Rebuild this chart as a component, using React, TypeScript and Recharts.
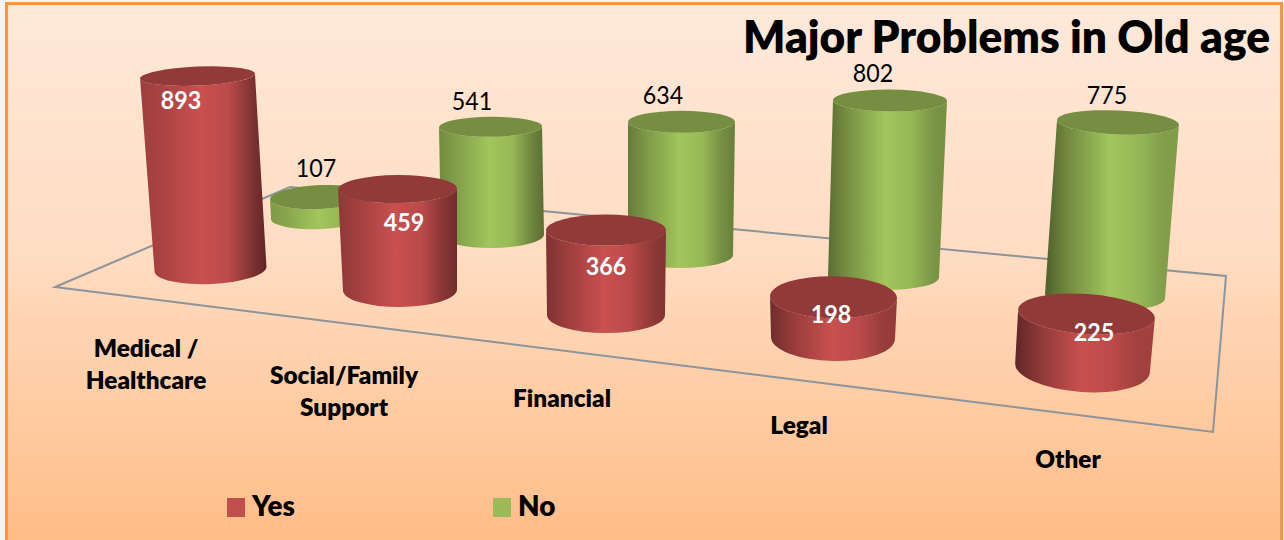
import React from "react";
import { BarChart, Bar, XAxis, YAxis, Legend, LabelList, Customized } from "recharts";

const categories = ["Medical / Healthcare", "Social/Family Support", "Financial", "Legal", "Other"];
const yesValues = [893, 459, 366, 198, 225];
const noValues = [107, 541, 634, 802, 775];
const chartTitle = "Major Problems in Old age";

const rows = categories.map((name, i) => ({ name, Yes: yesValues[i], No: noValues[i] }));

// Perspective camera: each mark is moved off the flat Recharts bar to its place on the tilted floor.
type Cam = { dx: number; dy: number; k: number; lean: number; rxT: number; ryT: number; rxB: number; ryB: number; rot: number; lx: number; ly: number };
const yesCamera: Cam[] = [
  { dx: -17.5, dy: -131, k: 1.08, lean: -13, rxT: 0.575, ryT: 0.095, rxB: 0.56, ryB: 0.15, rot: -2.5, lx: -47, ly: -121.4 },
  { dx: -64, dy: -110, k: 1.1, lean: -2.5, rxT: 0.595, ryT: 0.14, rxB: 0.57, ryB: 0.17, rot: -0.5, lx: -60, ly: -86.2 },
  { dx: -94, dy: -85, k: 1.16, lean: 0, rxT: 0.6, ryT: 0.155, rxB: 0.59, ryB: 0.18, rot: 0, lx: -94, ly: -60.8 },
  { dx: -103, dy: -62, k: 1.03, lean: 0.5, rxT: 0.635, ryT: 0.21, rxB: 0.62, ryB: 0.23, rot: 1, lx: -105, ly: -46.4 },
  { dx: -89.5, dy: -32, k: 1.2, lean: 4, rxT: 0.685, ryT: 0.2, rxB: 0.675, ryB: 0.24, rot: 4, lx: -78, ly: -23 },
];
const noCamera: Cam[] = [
  { dx: 193, dy: -183, k: 0.93, lean: -1, rxT: 0.5, ryT: 0.12, rxB: 0.5, ryB: 0.12, rot: -2.5, lx: 188, ly: -210.6 },
  { dx: 128.5, dy: -165, k: 1.0, lean: -2, rxT: 0.515, ryT: 0.1, rxB: 0.515, ryB: 0.13, rot: -0.5, lx: 108, ly: -190.8 },
  { dx: 80.5, dy: -145, k: 1.05, lean: 1, rxT: 0.535, ryT: 0.11, rxB: 0.525, ryB: 0.13, rot: 0, lx: 63, ly: -178.2 },
  { dx: 47.5, dy: -123, k: 1.1, lean: 6.5, rxT: 0.57, ryT: 0.11, rxB: 0.555, ryB: 0.13, rot: 0.5, lx: 37, ly: -166.6 },
  { dx: 33, dy: -104, k: 1.12, lean: 13, rxT: 0.61, ryT: 0.12, rxB: 0.6, ryB: 0.14, rot: 2.4, lx: 35, ly: -150 },
];
const tickOffsets = [
  { dx: -32, y: 357 },
  { dx: -70, y: 383.5 },
  { dx: -88, y: 407 },
  { dx: -87, y: 434 },
  { dx: -54, y: 468 },
];

const FONT = "Lato, 'Open Sans', sans-serif";
const RED = [201, 80, 79];
const GREEN = [162, 197, 92];

const shade = (c: number[], f: number) => `rgb(${c.map((v) => Math.round(v * f)).join(",")})`;

function Txt({ x, y, size, weight = 700, anchor = "middle", fill = "#000", sx = 0.95, children }: any) {
  return (
    <text
      transform={`translate(${x},${y}) scale(${sx},1)`}
      textAnchor={anchor}
      fontFamily={FONT}
      fontSize={size}
      fontWeight={weight}
      fill={fill}
    >
      {children}
    </text>
  );
}

function cylinderShape(color: number[], cams: Cam[], prefix: string) {
  return function Cylinder(props: any) {
    const { x, width, height, index } = props;
    const c = cams[index];
    const bx = x + width / 2 + c.dx;
    const by = props.y + height + c.dy;
    const tx = bx + c.lean;
    const ty = by - height * c.k;
    const rad = (c.rot * Math.PI) / 180;
    const rxT = width * c.rxT;
    const ryT = width * c.ryT;
    const rxB = width * c.rxB;
    const ryB = width * c.ryB;
    const cos = Math.cos(rad);
    const sin = Math.sin(rad);
    const d = [
      `M${tx - rxT * cos},${ty - rxT * sin}`,
      `L${bx - rxB * cos},${by - rxB * sin}`,
      `A${rxB},${ryB} ${c.rot} 0 0 ${bx + rxB * cos},${by + rxB * sin}`,
      `L${tx + rxT * cos},${ty + rxT * sin}`,
      `A${rxT},${ryT} ${c.rot} 0 1 ${tx - rxT * cos},${ty - rxT * sin}`,
      "Z",
    ].join(" ");
    const t = index / 4;
    const leftEdge = 0.78 - 0.3 * t;
    const rightEdge = 0.48 + 0.32 * t;
    const id = `${prefix}-grad-${index}`;
    return (
      <g>
        <defs>
          <linearGradient id={id} x1="0" y1="0" x2="1" y2="0">
            <stop offset="0" stopColor={shade(color, leftEdge)} />
            <stop offset="0.16" stopColor={shade(color, 0.5 * leftEdge + 0.45)} />
            <stop offset="0.48" stopColor={shade(color, 1)} />
            <stop offset="0.7" stopColor={shade(color, 0.93)} />
            <stop offset="0.88" stopColor={shade(color, 0.5 * rightEdge + 0.4)} />
            <stop offset="1" stopColor={shade(color, rightEdge)} />
          </linearGradient>
        </defs>
        <path d={d} fill={`url(#${id})`} />
        <ellipse
          cx={tx}
          cy={ty}
          rx={rxT}
          ry={ryT}
          fill={shade(color, 0.72)}
          transform={`rotate(${c.rot} ${tx} ${ty})`}
        />
      </g>
    );
  };
}

function valueLabel(cams: Cam[], fill: string, weight: number) {
  return function ValueLabel(props: any) {
    const { x, y, width, value, index } = props;
    const c = cams[index];
    return (
      <Txt x={x + width / 2 + c.lx} y={y + c.ly + 8.5} size={24.5} weight={weight} fill={fill}>
        {value}
      </Txt>
    );
  };
}

function CategoryTick({ x, payload, index }: any) {
  const o = tickOffsets[index];
  const label: string = payload.value;
  const cut = label.lastIndexOf(" ");
  const lines = cut > 0 ? [label.slice(0, cut), label.slice(cut + 1)] : [label];
  return (
    <g>
      {lines.map((line, i) => (
        <Txt key={line} x={x + o.dx} y={o.y + i * 32} size={25} sx={0.975} weight={800}>
          {line}
        </Txt>
      ))}
    </g>
  );
}

function Floor() {
  return (
    <g>
      <polygon points="55,287 1213,432 1226,276 290,187" fill="none" stroke="#8b949b" strokeWidth={2} />
      <Txt x={1270} y={53} size={46} anchor="end" sx={0.962} weight={800}>
        {chartTitle}
      </Txt>
    </g>
  );
}

function LegendBox({ payload }: any) {
  const items = [...(payload || [])].reverse();
  return (
    <svg width={400} height={40} style={{ display: "block" }}>
      {items.map((it: any, i: number) => (
        <g key={it.value}>
          <rect x={i * 266} y={11} width={18} height={19} fill={it.color} />
          <Txt x={i * 266 + 25} y={29} size={29} anchor="start" sx={0.96} weight={800}>
            {it.value}
          </Txt>
        </g>
      ))}
    </svg>
  );
}

export default function App() {
  return (
    <div style={{ position: "absolute", left: 0, top: 0, width: 1284, height: 540, overflow: "hidden", background: "#f4f4f2" }}>
      <div
        style={{
          position: "absolute",
          left: 5,
          top: 2,
          width: 1278,
          height: 560,
          boxSizing: "border-box",
          border: "3px solid #f79646",
          background: "linear-gradient(180deg, #ffe9da 0%, #ffdcc2 45%, #ffbb84 100%)",
        }}
      />
      <div style={{ position: "absolute", left: 0, top: 0 }}>
        <BarChart
          width={1284}
          height={540}
          data={rows}
          margin={{ top: 200, right: 44, bottom: 70, left: 60 }}
          barSize={100}
          barGap={0}
        >
          <Customized component={Floor} />
          <XAxis dataKey="name" axisLine={false} tickLine={false} interval={0} tick={CategoryTick} height={30} />
          <YAxis hide domain={[0, 1000]} />
          <Legend
            verticalAlign="bottom"
            content={LegendBox}
            wrapperStyle={{ position: "absolute", left: 227, top: 487, width: 400, height: 40, bottom: "auto" }}
          />
          <Bar dataKey="No" fill="#9bbb59" isAnimationActive={false} shape={cylinderShape(GREEN, noCamera, "no")}>
            <LabelList dataKey="No" content={valueLabel(noCamera, "#000", 400)} />
          </Bar>
          <Bar dataKey="Yes" fill="#c0504d" isAnimationActive={false} shape={cylinderShape(RED, yesCamera, "yes")}>
            <LabelList dataKey="Yes" content={valueLabel(yesCamera, "#fff", 700)} />
          </Bar>
        </BarChart>
      </div>
    </div>
  );
}
